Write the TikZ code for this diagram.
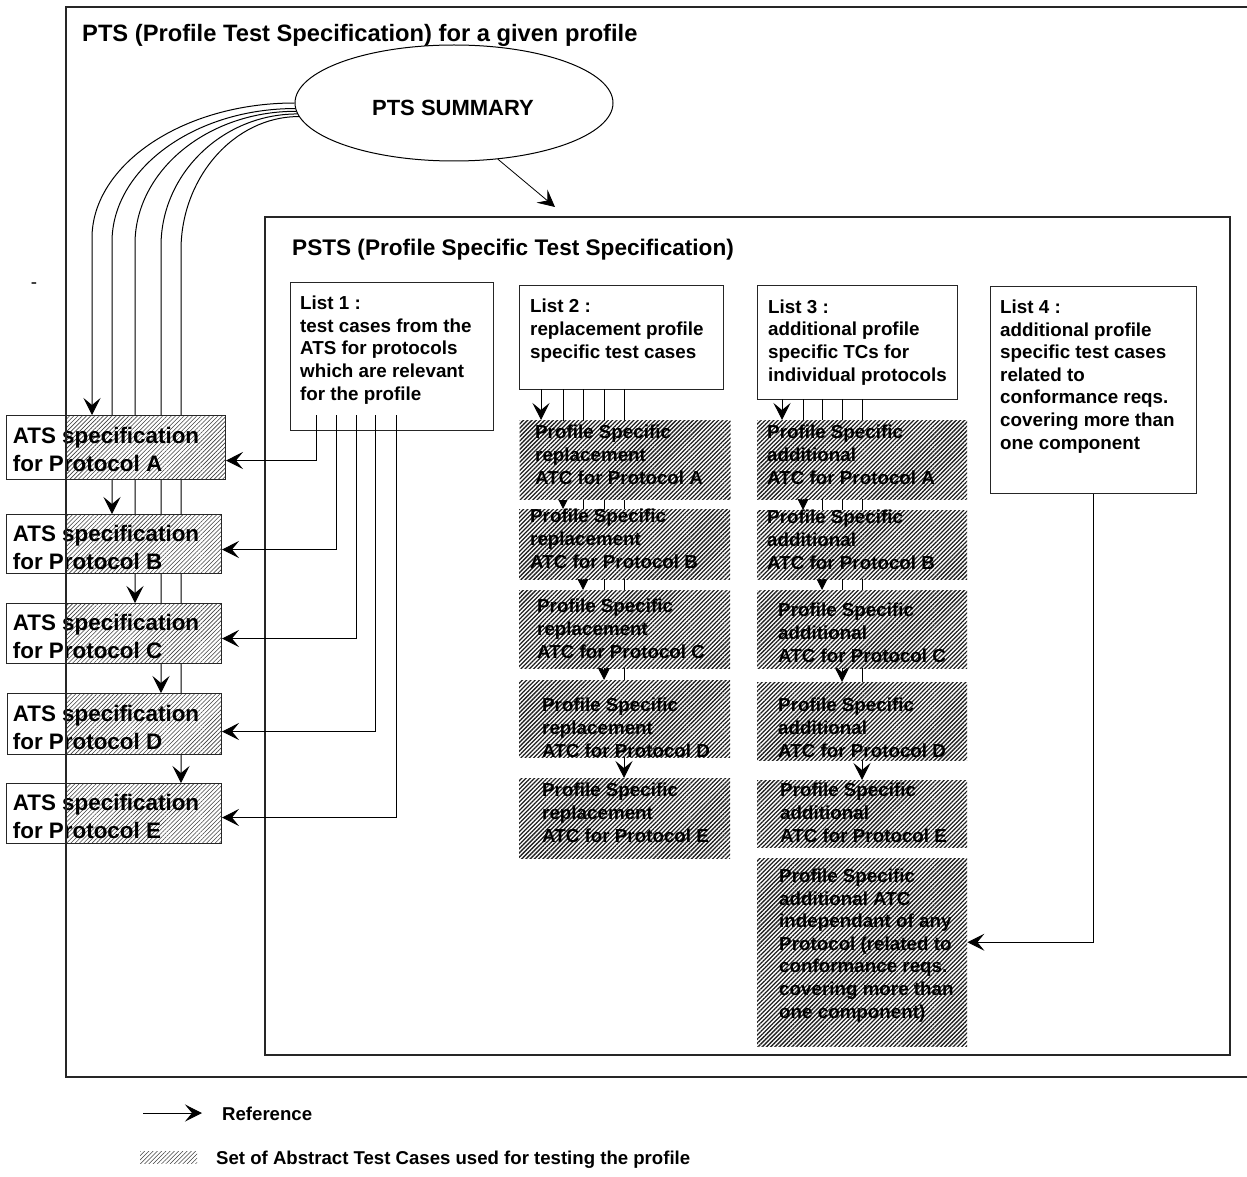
\documentclass[tikz,border=0pt]{standalone}
\usepackage{fontspec}
\setmainfont{Liberation Sans}
\usetikzlibrary{arrows.meta,patterns.meta,shapes.geometric}
\pgfdeclarelayer{back}
\pgfdeclarelayer{conn}
\pgfdeclarelayer{front}
\pgfsetlayers{back,conn,main,front}

\begin{document}
\begin{tikzpicture}[x=1pt,y=-1pt,
  frame/.style={draw=black!85, line width=1.3pt},
  listbox/.style={draw=black!85, line width=1.2pt, fill=white, anchor=north west, inner sep=0pt},
  darkhatch/.style={preaction={fill=white}, pattern={Lines[angle=45,distance=3pt,line width=1.3pt]},
    pattern color=black!88, anchor=north west, inner sep=0pt},
  lighthatch/.style={pattern={Lines[angle=45,distance=3pt,line width=0.6pt]}, pattern color=black!75},
  atsbox/.style={draw=black!85, line width=1pt, preaction={fill=white}, anchor=north west, inner sep=0pt,
    path picture={\fill[lighthatch] (pL |- path picture bounding box.north)
      rectangle (path picture bounding box.south east);}},
  ref/.style={draw=black, line width=1pt, -{Stealth[length=17pt,width=17pt,inset=7pt]}},
  % multi-line texts are placed by the baseline of their last line
  txt/.style={anchor=base west, inner sep=0pt, align=left},
  body/.style={txt, font=\fontsize{18.8pt}{22.6pt}\selectfont\bfseries},
  ats/.style={txt, font=\fontsize{22.4pt}{27.5pt}\selectfont\bfseries},
  head/.style={txt, font=\fontsize{23.7pt}{28pt}\selectfont\bfseries},
  legend/.style={txt, font=\fontsize{18.6pt}{22pt}\selectfont\bfseries}]
\useasboundingbox (0,0) rectangle (1247,1177);
\coordinate (pL) at (66,7);

% ---------- frames, summary and list boxes ----------
\begin{pgfonlayer}{back}
  \draw[frame] (265,217) rectangle (1230,1055);
  \node[draw, ellipse, line width=1pt, fill=white, minimum width=318pt, minimum height=116pt,
    inner sep=0pt] (summary) at (454,103) {};
  \node[listbox, minimum width=203pt, minimum height=148pt] (list1) at (290,282) {};
  \node[listbox, minimum width=204pt, minimum height=104pt] (list2) at (519,285) {};
  \node[listbox, minimum width=200pt, minimum height=114pt] (list3) at (757,285) {};
  \node[listbox, minimum width=206pt, minimum height=207pt] (list4) at (990,286) {};
\end{pgfonlayer}

% ---------- ATS specifications ----------
\node[atsbox, minimum width=219pt, minimum height=64pt] (atsA) at (6,415) {};
\node[atsbox, minimum width=215pt, minimum height=59pt] (atsB) at (6,514) {};
\node[atsbox, minimum width=215pt, minimum height=60pt] (atsC) at (6,603) {};
\node[atsbox, minimum width=214pt, minimum height=61pt] (atsD) at (7,693) {};
\node[atsbox, minimum width=215pt, minimum height=60pt] (atsE) at (6,783) {};
\foreach \n/\y in {A/471,B/569,C/658,D/749,E/838}
  \node[ats] (tats\n) at (12.7,\y) {ATS specification\\for Protocol \n};

% ---------- replacement ATCs (list 2) ----------
\foreach \n/\y/\h in {A/420/79,B/509/70,C/590/78,D/680/77,E/778/80}
  \node[darkhatch, minimum width=211pt, minimum height=\h pt] (r2\n) at (519,\y) {};
\foreach \n/\x/\y in {A/535/484,B/530/568,C/537/658,D/542/757,E/542/842}
  \node[body] (t2\n) at (\x,\y) {Profile Specific\\replacement\\ATC for Protocol \n};

% ---------- additional ATCs (list 3) ----------
\foreach \n/\y/\h in {A/420/79,B/510/69,C/590/78,D/682/78,E/780/67,F/858/188}
  \node[darkhatch, minimum width=210pt, minimum height=\h pt] (r3\n) at (757,\y) {};
\foreach \n/\x/\y in {A/767/484,B/767/569,C/778/662,D/778/757,E/780/842}
  \node[body] (t3\n) at (\x,\y) {Profile Specific\\additional\\ATC for Protocol \n};
\node[body] (t3F) at (779,1018) {Profile Specific\\additional ATC\\independant of any\\Protocol (related to\\conformance reqs.\\covering more than\\one component)};

% ---------- texts ----------
\node[head] (ptstitle) at (82,41.5) {PTS (Profile Test Specification) for a given profile};
\node[head, font=\fontsize{22.6pt}{27pt}\selectfont\bfseries] (pststitle) at (292,255) {PSTS (Profile Specific Test Specification)};
\node[font=\fontsize{22pt}{26pt}\selectfont\bfseries, inner sep=0pt] (summarytxt) at (453,108) {PTS SUMMARY};
\node[font=\fontsize{18.8pt}{22pt}\selectfont, inner sep=0pt] (dash) at (34,286) {-};
\node[body] (t1) at (300,400) {List 1 :\\test cases from the\\ATS for protocols\\which are relevant\\for the profile};
\node[body] (tl2) at (530,358) {List 2 :\\replacement profile\\specific test cases};
\node[body] (tl3) at (768,381) {List 3 :\\additional profile\\specific TCs for\\individual protocols};
\node[body] (tl4) at (1000,449) {List 4 :\\additional profile\\specific test cases\\related to\\conformance reqs.\\covering more than\\one component};

% ---------- legend ----------
\coordinate (legA) at (143,1113);
\coordinate (legB) at (202,1113);
\node[legend] (legref) at (222,1120) {Reference};
\fill[lighthatch] (140,1151) rectangle (197,1163);
\node[legend] (legset) at (216,1164) {Set of Abstract Test Cases used for testing the profile};

% ---------- references ----------
\begin{pgfonlayer}{conn}
  \coordinate (pstsin) at (555,207);
  \draw[ref, line width=0.8pt] (summary.-52) -- (pstsin);
  \foreach \n/\a/\lx/\ly/\cx/\cy in {A/180.7/92/238/-112/-73, B/182/112/242/-101/-73,
      C/183.3/135/244/-89/-73, D/184.5/161/246/-75/-72, E/185.7/181/250/-65/-72} {
    \coordinate (bend\n) at (\lx,\ly);
    \draw[ref] (summary.\a) .. controls +(\cx,0) and +(0,\cy) .. (bend\n) -- (bend\n |- ats\n.north);
  }
  \foreach \n/\x/\s in {A/316/-13,B/336/-5.5,C/356/-5,D/375/-7.5,E/396/-4} {
    \coordinate (k1\n) at (\x,415);
    \draw[ref] (k1\n) |- ([yshift=\s pt]ats\n.east);
  }
  \foreach \n/\x in {A/541,B/563,C/583,D/604,E/624} {
    \coordinate (k2\n) at (\x,389);
    \draw[ref] (k2\n) -- (k2\n |- r2\n.north);
  }
  \foreach \n/\x in {A/782,B/803,C/822,D/842,E/862} {
    \coordinate (k3\n) at (\x,399);
    \draw[ref] (k3\n) -- (k3\n |- r3\n.north);
  }
  \draw[ref] (list4.south) |- ([yshift=10pt]r3F.east);
  \draw[ref] (legA) -- (legB);
\end{pgfonlayer}

% ---------- outer PTS frame ----------
\begin{pgfonlayer}{front}
  \draw[frame] (1250,7) -- (pL) -- (66,1077) -- (1250,1077);
\end{pgfonlayer}
\end{tikzpicture}
\end{document}
